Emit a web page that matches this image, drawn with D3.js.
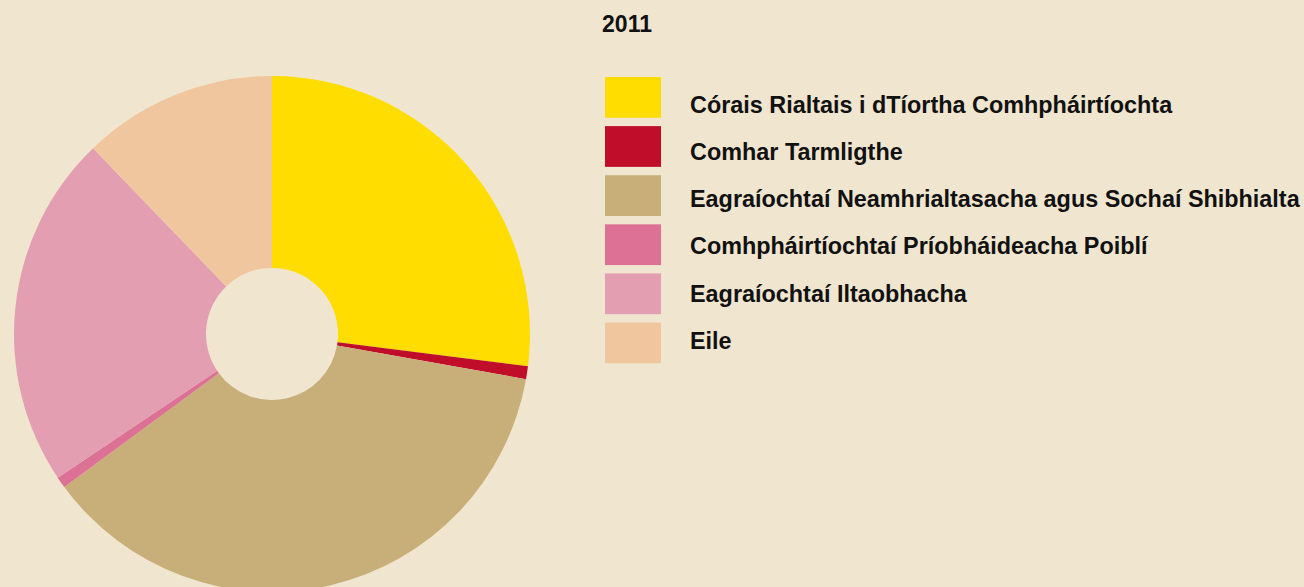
<!DOCTYPE html>
<html>
<head>
<meta charset="utf-8">
<script src="https://cdn.jsdelivr.net/npm/d3@7/dist/d3.min.js"></script>
<style>
  html, body { margin: 0; padding: 0; background: #f0e6cf; }
  svg { display: block; }
  text { font-family: "Liberation Sans", Arial, sans-serif; font-weight: bold; fill: #111; }
</style>
</head>
<body>
<svg id="chart" width="1304" height="587"></svg>
<script>
const title = '2011';
const categories = [
  'Córais Rialtais i dTíortha Comhpháirtíochta',
  'Comhar Tarmligthe',
  'Eagraíochtaí Neamhrialtasacha agus Sochaí Shibhialta',
  'Comhpháirtíochtaí Príobháideacha Poiblí',
  'Eagraíochtaí Iltaobhacha',
  'Eile'
];
const values = [27.0, 0.8, 37.1, 0.7, 22.2, 12.2];
const colors = ['#ffdd00', '#c00d2a', '#c8af79', '#dc7095', '#e39fb1', '#f0c69e'];

const cx = 272, cy = 334;
const outerR = 258, innerR = 66;

const svg = d3.select('#chart');

const pie = d3.pie().sort(null).value(d => d.value);
const arc = d3.arc().innerRadius(innerR).outerRadius(outerR);

const data = categories.map((c, i) => ({name: c, value: values[i], color: colors[i]}));

svg.append('g')
  .attr('transform', `translate(${cx},${cy})`)
  .selectAll('path')
  .data(pie(data))
  .enter()
  .append('path')
  .attr('d', arc)
  .attr('fill', d => d.data.color);

svg.append('text')
  .attr('x', 627)
  .attr('y', 32)
  .attr('text-anchor', 'middle')
  .style('font-size', '23px')
  .text(title);

// legend: swatches and labels sit on slightly different spacings
const swatchY = d3.scaleBand()
  .domain(categories)
  .range([77, 363.3])
  .paddingInner(0.17)
  .paddingOuter(0);

const labelY = d3.scalePoint()
  .domain(categories)
  .range([112.7, 349]);

const entries = svg.append('g')
  .attr('class', 'legend')
  .selectAll('g')
  .data(data)
  .enter()
  .append('g');

entries.append('rect')
  .attr('x', 605)
  .attr('y', d => swatchY(d.name))
  .attr('width', 56)
  .attr('height', swatchY.bandwidth())
  .attr('fill', d => d.color);

entries.append('text')
  .attr('x', 690)
  .attr('y', d => labelY(d.name))
  .style('font-size', '23.4px')
  .text(d => d.name);
</script>
</body>
</html>
